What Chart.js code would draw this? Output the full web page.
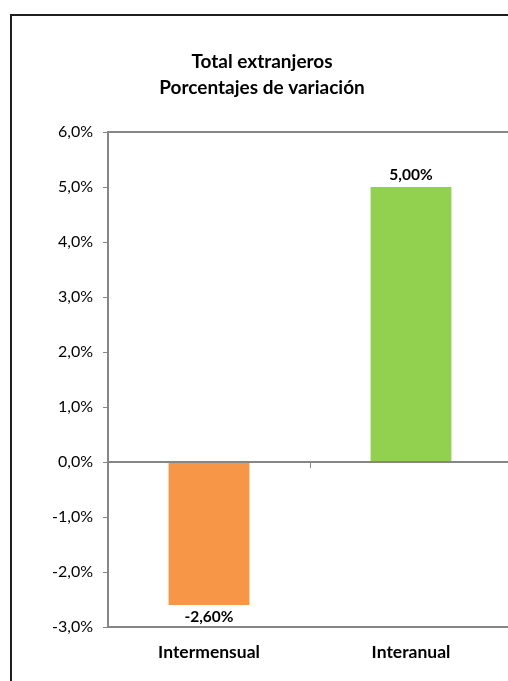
<!DOCTYPE html>
<html><head><meta charset="utf-8">
<script src="https://cdn.jsdelivr.net/npm/chart.js@4/dist/chart.umd.min.js"></script>
<style>
html,body{margin:0;padding:0;background:#fff;overflow:hidden;width:508px;height:681px;}
#frame{position:absolute;left:10px;top:14px;width:700px;height:900px;border:2px solid #1e1e1e;box-sizing:border-box;}
#wrap{position:absolute;left:0;top:0;width:524px;height:681px;}
</style></head><body>
<div id="frame"></div>
<div id="wrap"><canvas id="c" width="524" height="681"></canvas></div>
<script>
const categories = ["Intermensual", "Interanual"];
const values = [-2.6, 5.0];
const barColors = ["#F79646", "#92D050"];
const valueLabels = ["-2,60%", "5,00%"];
const titleLines = ["Total extranjeros", "Porcentajes de variación"];
const yMin = -3, yMax = 6, yStep = 1;

const FONT = "Lato, 'Open Sans', sans-serif";

const deco = {
  id: 'deco',
  afterDraw(chart) {
    const ctx = chart.ctx, a = chart.chartArea;
    const y = chart.scales.y, x = chart.scales.x;
    ctx.save();
    // title
    ctx.fillStyle = '#000';
    ctx.font = 'bold 19px ' + FONT;
    ctx.textAlign = 'center'; ctx.textBaseline = 'middle';
    ctx.fillText(titleLines[0], 262, 62);
    ctx.fillText(titleLines[1], 262, 88);
    // plot border
    ctx.strokeStyle = '#868686'; ctx.lineWidth = 2;
    ctx.beginPath();
    ctx.moveTo(a.left, a.top); ctx.lineTo(a.right + 20, a.top);
    ctx.moveTo(a.left, a.bottom); ctx.lineTo(a.right + 20, a.bottom);
    ctx.stroke();
    // zero line
    const y0 = Math.round(y.getPixelForValue(0));
    ctx.beginPath();
    ctx.moveTo(a.left, y0); ctx.lineTo(a.right + 20, y0);
    ctx.stroke();
    // category separator tick
    ctx.lineWidth = 1;
    ctx.beginPath();
    const xm = (x.getPixelForValue(0) + x.getPixelForValue(1)) / 2;
    ctx.moveTo(xm + 0.5, y0); ctx.lineTo(xm + 0.5, y0 + 6);
    ctx.stroke();
    // value labels
    ctx.fillStyle = '#000';
    ctx.font = 'bold 15.5px ' + FONT;
    const meta = chart.getDatasetMeta(0);
    meta.data.forEach((bar, i) => {
      const v = values[i];
      const ly = v >= 0 ? bar.y - 12 : bar.y + 12;
      ctx.fillText(valueLabels[i], bar.x, ly);
    });
    ctx.restore();
  }
};

new Chart(document.getElementById('c'), {
  type: 'bar',
  data: {
    labels: categories,
    datasets: [{
      data: values,
      backgroundColor: barColors,
      borderWidth: 0,
      categoryPercentage: 0.8,
      barPercentage: 0.5
    }]
  },
  options: {
    responsive: false,
    animation: false,
    devicePixelRatio: 1,
    layout: { padding: { top: 132, right: 12, left: 0, bottom: 0 } },
    plugins: { legend: { display: false }, title: { display: false }, tooltip: { enabled: false } },
    scales: {
      x: {
        grid: { display: false },
        border: { display: false },
        ticks: { color: '#000', font: { family: FONT, size: 17.5, weight: 'bold', lineHeight: 1 }, padding: 9 },
        afterFit(s) { s.height = 54; }
      },
      y: {
        min: yMin, max: yMax,
        grid: { drawOnChartArea: false, drawTicks: true, tickLength: 5, tickColor: '#868686', lineWidth: 1 },
        border: { display: true, color: '#868686', width: 2 },
        ticks: {
          stepSize: yStep, color: '#000', padding: 10,
          font: { family: FONT, size: 16 },
          callback: v => v.toFixed(1).replace('.', ',') + '%'
        },
        afterFit(s) { s.width = 108; }
      }
    }
  },
  plugins: [deco]
});
</script>
</body></html>
